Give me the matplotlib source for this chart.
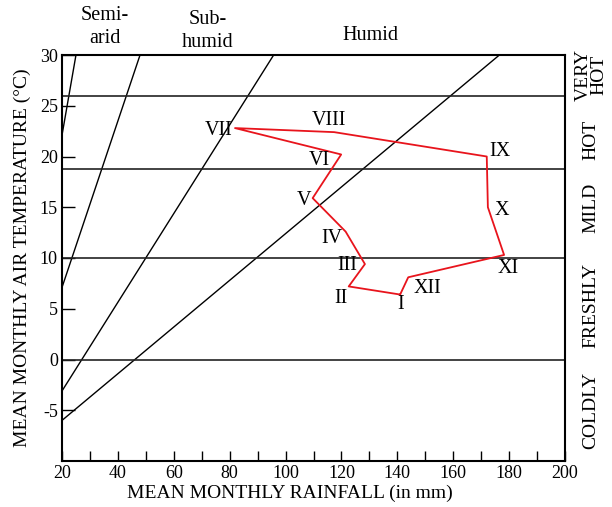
import numpy as np
import matplotlib
matplotlib.use('Agg')
import matplotlib.pyplot as plt

# monthly climate (rainfall mm, air temperature C)
months = ['I', 'II', 'III', 'IV', 'V', 'VI', 'VII', 'VIII', 'IX', 'X', 'XI', 'XII']
rainfall = [141.0, 122.6, 128.4, 121.5, 109.7, 119.9, 81.9, 117.4, 172.0, 172.4, 178.2, 143.9]
temperature = [6.4, 7.2, 9.4, 12.6, 15.9, 20.2, 22.8, 22.4, 20.0, 15.0, 10.3, 8.1]

# label offsets in pixels from each point
label_dx = [0, -8, -18, -14, -9, -22, -16, -5, 13, 14, 4, 19]
label_dy = [-10, -12, -1, -7, -2, -6, -2, 12, 5, -3, -14, -11]

# humidity boundary lines: temperature at 20 mm and slope
bound_t20 = [22.1, 7.1, -3.1, -6.0]
bound_slope = [1.58, 0.82, 0.437, 0.23]

# temperature class limits
temp_limits = [26, 18.8, 10, 0]

humidity_names = ['Semi-\narid', 'Sub-\nhumid', 'Humid']
temp_names = ['VERY\nHOT', 'HOT', 'MILD', 'FRESHLY', 'COLDLY']

plt.rcParams['font.family'] = ['Liberation Serif', 'DejaVu Serif']
plt.rcParams['axes.unicode_minus'] = False

W, H = 612, 507
fig = plt.figure(figsize=(W / 100, H / 100), dpi=100)
ax = fig.add_axes([62 / W, 46 / H, 503 / W, 406 / H])

xs = np.array([20, 200])
for t20, k in zip(bound_t20, bound_slope):
    ax.plot(xs, t20 + k * (xs - 20), color='black', lw=1.0)

for t in temp_limits:
    ax.axhline(t, color='#222222', lw=1.2)

x_loop = rainfall + rainfall[:1]
y_loop = temperature + temperature[:1]
ax.plot(x_loop, y_loop, color='#e8141c', lw=1.3)

for m, x, y, dx, dy in zip(months, rainfall, temperature, label_dx, label_dy):
    ax.annotate(m, (x, y), xytext=(dx, dy), textcoords='offset pixels',
                ha='center', va='center', fontsize=14.5)

ax.set_xlim(20, 200)
ax.set_ylim(-10, 30)
ax.set_xticks(np.arange(20, 201, 20))
ax.set_xticks(np.arange(30, 200, 10), minor=True)
ax.set_yticks(np.arange(-5, 31, 5))
ax.tick_params(axis='x', direction='in', length=7, width=1, labelsize=13, pad=3)
ax.tick_params(axis='x', which='minor', direction='in', length=7, width=1)
ax.tick_params(axis='y', direction='in', length=9, width=1, labelsize=13, pad=3)
for s in ax.spines.values():
    s.set_linewidth(1.5)

ax.set_ylabel('MEAN MONTHLY AIR TEMPERATURE (°C)', fontsize=14, labelpad=6)
fig.text(290 / W, 1 - 493 / H, 'MEAN MONTHLY RAINFALL (in mm)', ha='center',
         va='center', fontsize=14)

# humidity class names above the plot
for name, px, py in zip(humidity_names, [105, 208, 370], [27, 31, 35]):
    fig.text(px / W, 1 - py / H, name, ha='center', va='center', fontsize=14.5,
             linespacing=1.25)

# temperature class names at the right
for name, py in zip(temp_names, [75, 140, 208, 305, 410]):
    fig.text(591 / W, 1 - py / H, name, ha='center', va='center', fontsize=14,
             rotation=90, linespacing=0.9)

fig.savefig('out.png', dpi=100)
